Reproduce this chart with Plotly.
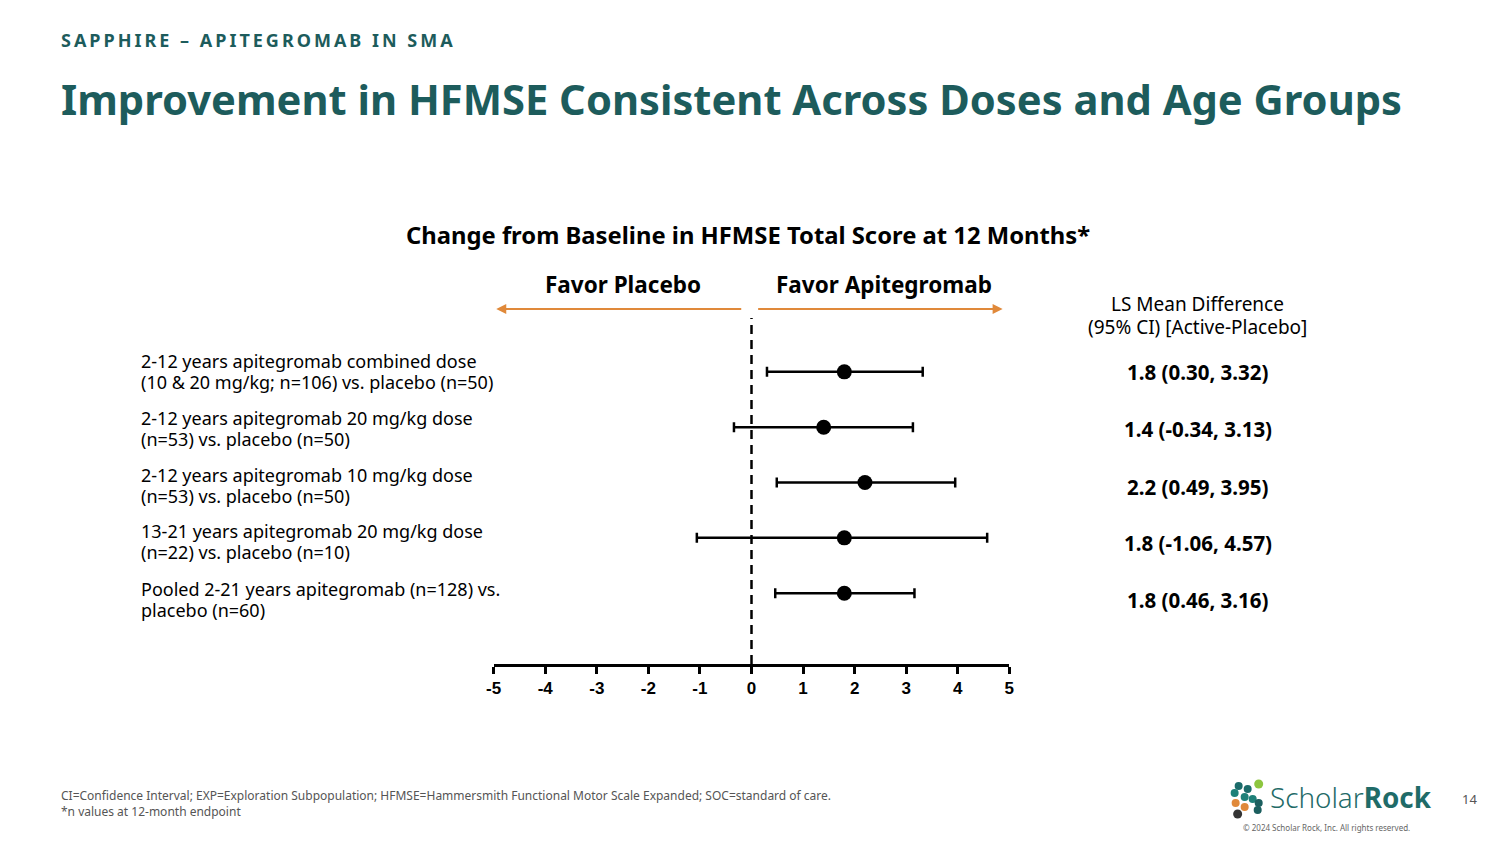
import plotly.graph_objects as go

# ---------------- data ----------------
row_labels = [
    ["2-12 years apitegromab combined dose", "(10 & 20 mg/kg; n=106) vs. placebo (n=50)"],
    ["2-12 years apitegromab 20 mg/kg dose", "(n=53) vs. placebo (n=50)"],
    ["2-12 years apitegromab 10 mg/kg dose", "(n=53) vs. placebo (n=50)"],
    ["13-21 years apitegromab 20 mg/kg dose", "(n=22) vs. placebo (n=10)"],
    ["Pooled 2-21 years apitegromab (n=128) vs.", "placebo (n=60)"],
]
ls_mean = [1.8, 1.4, 2.2, 1.8, 1.8]
ci_low = [0.30, -0.34, 0.49, -1.06, 0.46]
ci_high = [3.32, 3.13, 3.95, 4.57, 3.16]
row_pos = [5, 4, 3, 2, 1]
x_ticks = [-5, -4, -3, -2, -1, 0, 1, 2, 3, 4, 5]
value_labels = [f"{m:.1f} ({lo:.2f}, {hi:.2f})" for m, lo, hi in zip(ls_mean, ci_low, ci_high)]

W, H = 1500, 844
TEAL = "#1d5c5c"
ORANGE = "#e0893a"
FONT = "Noto Sans"


def px(x):
    # screen pixel -> paper fraction (page renders figure in [8, 1493])
    return (x - 8) / 1485


def py(y):
    return 1 - y / H


fig = go.Figure()

fig.add_trace(go.Scatter(
    x=ls_mean,
    y=row_pos,
    mode="markers",
    marker=dict(size=15, color="black"),
    error_x=dict(
        type="data",
        symmetric=False,
        array=[h - m for h, m in zip(ci_high, ls_mean)],
        arrayminus=[m - l for m, l in zip(ls_mean, ci_low)],
        color="black",
        thickness=2.5,
        width=5,
    ),
    showlegend=False,
    hoverinfo="x+y",
))

y_lo, y_hi = -0.279, 5.973

fig.update_layout(
    width=W, height=H,
    margin=dict(l=0, r=0, t=0, b=0),
    paper_bgcolor="white",
    plot_bgcolor="white",
    xaxis=dict(
        domain=[px(493), px(1008)],
        range=[-5, 5],
        tickvals=x_ticks,
        ticktext=[str(t) for t in x_ticks],
        showline=True, linecolor="black", linewidth=2.5,
        ticks="outside", ticklen=7, tickwidth=2.5, tickcolor="black",
        showgrid=False, zeroline=False,
        tickfont=dict(family="Liberation Sans", size=17, color="black", weight="bold"),
        fixedrange=True,
    ),
    yaxis=dict(
        domain=[py(664), py(318)],
        range=[y_lo, y_hi],
        visible=False,
        showgrid=False, zeroline=False,
        fixedrange=True,
    ),
    font=dict(family=FONT, color="black"),
)

# dashed zero line
fig.add_shape(type="line", xref="x", yref="y", x0=0, x1=0, y0=y_lo, y1=y_hi,
              line=dict(color="black", width=2.5, dash="9px,6px"), layer="below")

annotations = []


def note(text, x, y, size, color="black", xanchor="left", align="left"):
    annotations.append(dict(text=text, x=px(x), y=py(y), xref="paper", yref="paper",
                            xanchor=xanchor, yanchor="middle", align=align, showarrow=False,
                            borderpad=0,
                            font=dict(family=FONT, size=size, color=color)))


# header
note('<span style="letter-spacing:3px"><b>SAPPHIRE – APITEGROMAB IN SMA</b></span>', 60, 40, 18, TEAL)
note("<b>Improvement in HFMSE Consistent Across Doses and Age Groups</b>", 60, 99, 41.7, TEAL)
# chart title
note("<b>Change from Baseline in HFMSE Total Score at 12 Months*</b>", 747, 235, 23.8,
     xanchor="center", align="center")
note("<b>Favor Placebo</b>", 622, 284, 22.5, xanchor="center", align="center")
note("<b>Favor Apitegromab</b>", 883, 284, 22.5, xanchor="center", align="center")

# arrows
annotations.append(dict(x=-4.95, y=py(309), ax=-0.17, ay=0, xref="x", yref="paper",
                        axref="x", ayref="pixel", text="", showarrow=True, arrowhead=2,
                        arrowsize=1, arrowwidth=2, arrowcolor=ORANGE))
annotations.append(dict(x=4.87, y=py(309), ax=0.1, ay=0, xref="x", yref="paper",
                        axref="x", ayref="pixel", text="", showarrow=True, arrowhead=2,
                        arrowsize=1, arrowwidth=2, arrowcolor=ORANGE))

# LS mean header
note("LS Mean Difference", 1196, 304, 19, xanchor="center", align="center")
note("(95% CI) [Active-Placebo]", 1196, 327, 19, xanchor="center", align="center")

label_y = [361, 418, 475, 531, 589]
for lines, yy in zip(row_labels, label_y):
    note(lines[0], 140, yy, 18)
    note(lines[1], 140, yy + 21, 18)

val_y = [372, 429, 487, 543, 600]
for v, yy in zip(value_labels, val_y):
    note(f"<b>{v}</b>", 1196, yy, 20.5, xanchor="center", align="center")

# footnotes
note("CI=Confidence Interval; EXP=Exploration Subpopulation; HFMSE=Hammersmith Functional Motor Scale Expanded; SOC=standard of care.<br>*n values at 12-month endpoint",
     60, 803, 12, "#555555")

# logo text
note('<span style="font-weight:300">Scholar</span><b>Rock</b>', 1267, 797, 27.8, "#1f6b68")
note("© 2024 Scholar Rock, Inc. All rights reserved.", 1325, 827, 8, "#666666", xanchor="center")
note("14", 1468, 799, 13, "#555555", xanchor="center")

fig.update_layout(annotations=annotations)

# logo icon (approximate blobs)
blobs = [
    (1257, 784, 4.5, "#8dc63f"),
    (1237, 786, 4.0, "#1b6b6a"),
    (1246, 789, 4.0, "#1b6b6a"),
    (1233, 793, 4.0, "#1e8078"),
    (1243, 797, 4.0, "#1e8078"),
    (1251, 799, 4.0, "#1e8078"),
    (1257, 803, 4.0, "#1b5e5e"),
    (1256, 810, 4.0, "#1b5e5e"),
    (1234, 803, 4.0, ORANGE),
    (1243, 807, 4.0, ORANGE),
    (1236, 814, 4.5, "#333333"),
]
for cx, cy, r, col in blobs:
    fig.add_shape(type="circle", xref="paper", yref="paper",
                  x0=px(cx - r), x1=px(cx + r), y0=py(cy + r), y1=py(cy - r),
                  fillcolor=col, line=dict(width=0))

fig.write_html(
    "out.html",
    config={"displayModeBar": False, "responsive": False},
    post_script="document.body.style.margin='0';document.body.style.overflow='hidden';document.documentElement.style.overflow='hidden';",
)
